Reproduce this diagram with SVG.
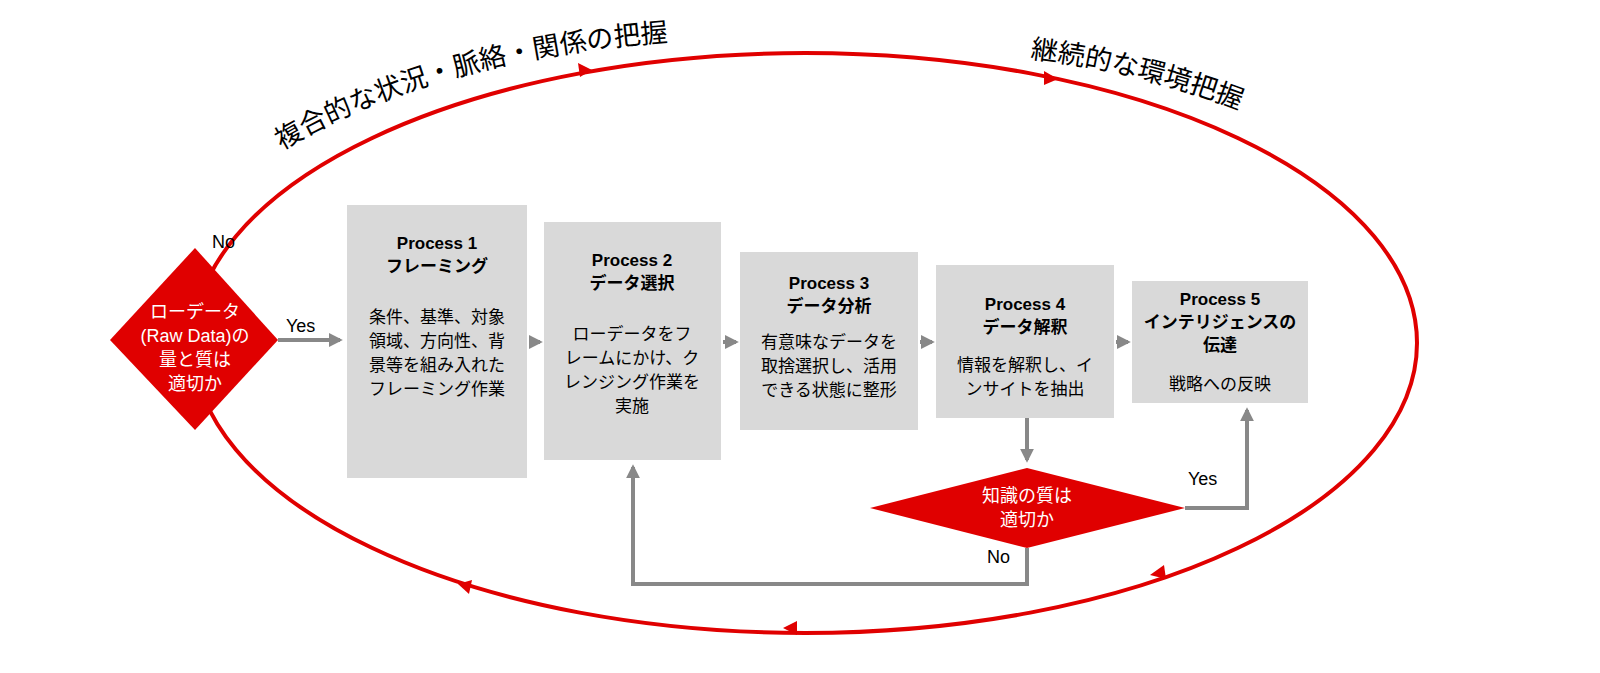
<svg xmlns="http://www.w3.org/2000/svg" width="1600" height="673" viewBox="0 0 1600 673">
<style>
text{font-family:"Liberation Sans","Noto Sans CJK JP",sans-serif;}
.box{fill:#d9d9d9;}
.t{font-size:17px;fill:#000;text-anchor:middle;}
.h{font-size:17px;font-weight:bold;fill:#000;text-anchor:middle;}
.w{font-size:18px;fill:#fff;text-anchor:middle;}
.lbl{font-size:18px;fill:#000;}
.c{fill:none;stroke:#888;stroke-width:4;}
.arc{font-size:27px;fill:#000;}
</style>
<defs>
<marker id="g" viewBox="0 0 10 10" refX="8" refY="5" markerWidth="3.5" markerHeight="3.5" orient="auto"><path d="M0 0L10 5L0 10z" fill="#888"/></marker>
<path id="p1" d="M282 150 Q440 55 690 40"/>
<path id="p2" d="M1030 58 Q1150 72 1265 120"/>
</defs>
<rect width="1600" height="673" fill="#fff"/>
<g id="cycle">
<ellipse cx="805" cy="343" rx="612" ry="290" fill="none" stroke="#e00000" stroke-width="4"/>
<polygon points="592,70 578,63 580,77" fill="#e00000"/>
<polygon points="1058,79 1044,71 1044,85" fill="#e00000"/>
<polygon points="1150,575 1164,565 1166,579" fill="#e00000"/>
<polygon points="783,628 797,621 797,635" fill="#e00000"/>
<polygon points="458,584 472,580 469,594" fill="#e00000"/>
<text class="arc"><textPath href="#p1">複合的な状況・脈絡・関係の把握</textPath></text>
<text class="arc"><textPath href="#p2">継続的な環境把握</textPath></text>
</g>
<g id="connectors">
<line class="c" x1="278" y1="340" x2="340" y2="340" marker-end="url(#g)"/>
<line class="c" x1="529" y1="342" x2="540" y2="342" marker-end="url(#g)"/>
<line class="c" x1="723" y1="342" x2="736" y2="342" marker-end="url(#g)"/>
<line class="c" x1="920" y1="342" x2="932" y2="342" marker-end="url(#g)"/>
<line class="c" x1="1116" y1="342" x2="1128" y2="342" marker-end="url(#g)"/>
<line class="c" x1="1027" y1="418" x2="1027" y2="460" marker-end="url(#g)"/>
<polyline class="c" points="1185,508 1247,508 1247,410" marker-end="url(#g)"/>
<polyline class="c" points="1027,548 1027,584 633,584 633,467" marker-end="url(#g)"/>
<text class="lbl" x="286" y="332">Yes</text>
<text class="lbl" x="212" y="248">No</text>
<text class="lbl" x="1188" y="485">Yes</text>
<text class="lbl" x="987" y="563">No</text>
</g>
<g id="d1">
<polygon points="110,340 195,248 278,340 195,430" fill="#e00000"/>
<text class="w" x="195" y="318">ローデータ</text>
<text class="w" x="195" y="342">(Raw Data)の</text>
<text class="w" x="195" y="366">量と質は</text>
<text class="w" x="195" y="390">適切か</text>
</g>
<g id="n1">
<rect class="box" x="347" y="205" width="180" height="273"/>
<text class="h" x="437" y="249">Process 1</text>
<text class="h" x="437" y="272">フレーミング</text>
<text class="t" x="437" y="323">条件、基準、対象</text>
<text class="t" x="437" y="347">領域、方向性、背</text>
<text class="t" x="437" y="371">景等を組み入れた</text>
<text class="t" x="437" y="395">フレーミング作業</text>
</g>
<g id="n2">
<rect class="box" x="544" y="222" width="177" height="238"/>
<text class="h" x="632" y="266">Process 2</text>
<text class="h" x="632" y="289">データ選択</text>
<text class="t" x="632" y="340">ローデータをフ</text>
<text class="t" x="632" y="364">レームにかけ、ク</text>
<text class="t" x="632" y="388">レンジング作業を</text>
<text class="t" x="632" y="412">実施</text>
</g>
<g id="n3">
<rect class="box" x="740" y="252" width="178" height="178"/>
<text class="h" x="829" y="289">Process 3</text>
<text class="h" x="829" y="312">データ分析</text>
<text class="t" x="829" y="348">有意味なデータを</text>
<text class="t" x="829" y="372">取捨選択し、活用</text>
<text class="t" x="829" y="396">できる状態に整形</text>
</g>
<g id="n4">
<rect class="box" x="936" y="265" width="178" height="153"/>
<text class="h" x="1025" y="310">Process 4</text>
<text class="h" x="1025" y="333">データ解釈</text>
<text class="t" x="1025" y="371">情報を解釈し、イ</text>
<text class="t" x="1025" y="395">ンサイトを抽出</text>
</g>
<g id="n5">
<rect class="box" x="1132" y="281" width="176" height="122"/>
<text class="h" x="1220" y="305">Process 5</text>
<text class="h" x="1220" y="328">インテリジェンスの</text>
<text class="h" x="1220" y="351">伝達</text>
<text class="t" x="1220" y="390">戦略への反映</text>
</g>
<g id="d2">
<polygon points="870,508 1027,468 1185,508 1027,548" fill="#e00000"/>
<text class="w" x="1027" y="502">知識の質は</text>
<text class="w" x="1027" y="526">適切か</text>
</g>
</svg>
